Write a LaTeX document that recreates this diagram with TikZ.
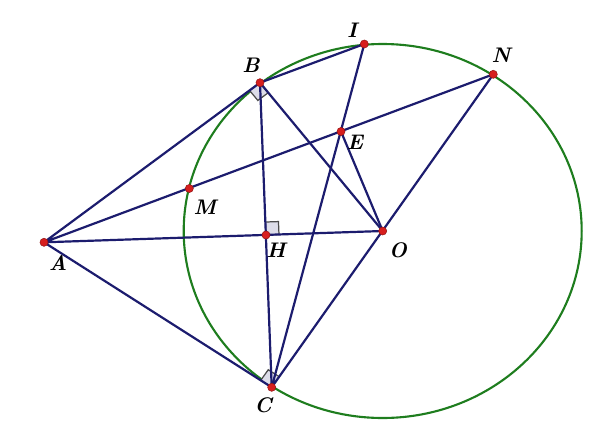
\documentclass[tikz,border=0pt]{standalone}
\usepackage{tikz}
\usetikzlibrary{calc}
\definecolor{navy}{RGB}{28,28,110}
\definecolor{circgreen}{RGB}{30,125,30}
\definecolor{ptred}{RGB}{215,30,30}
\tikzset{
	seg/.style={navy, line width=1.25pt},
	pt/.style={circle, fill=ptred, draw=ptred!70!black, line width=0.3pt, inner sep=0pt, minimum size=4.6pt},
	lbl/.style={font=\large\bfseries\itshape, inner sep=1pt},
	rmark/.style={fill=navy!15, draw=black!70, line width=0.7pt}
}
\newcommand{\rightangle}[3]{\filldraw[rmark](#1)--($(#1)!2.6mm!(#2)$)--($(#1)!2.6mm!(#2)+(#1)!2.6mm!(#3)-(#1)$)--($(#1)!2.6mm!(#3)$)--cycle;}
\begin{document}
\begin{tikzpicture}[x=0.02cm, y=-0.02cm]
\useasboundingbox (0,0) rectangle (600,430);
\coordinate (A) at (44,242.3);
\coordinate (B) at (260,82.7);
\coordinate (C) at (271.7,387.3);
\coordinate (H) at (266,235);
\coordinate (O) at (382.7,231);
\coordinate (I) at (364.3,44);
\coordinate (N) at (493.3,74.3);
\coordinate (E) at (341,131.5);
\coordinate (M) at (189.3,188.5);
% circle (O)
\draw[circgreen, line width=1.2pt] (O) ellipse [x radius=199, y radius=187];
% right angle marks
\rightangle{B}{A}{O}
\rightangle{C}{A}{O}
\rightangle{H}{B}{O}
% segments
\draw[seg] (A)--(B) (A)--(C) (A)--(O) (A)--(N);
\draw[seg] (B)--(C) (B)--(I) (B)--(O);
\draw[seg] (C)--(I) (C)--(N) (E)--(O);
% points and labels
\foreach \p in {A,B,C,H,O,I,N,E,M}
	\node[pt] (\p dot) at (\p) {};
\node[lbl] at (58,263) {A};
\node[lbl] at (251,65) {B};
\node[lbl] at (263,405) {C};
\node[lbl] at (276,250) {H};
\node[lbl] at (398,250) {O};
\node[lbl] at (352,30) {I};
\node[lbl] at (501,55) {N};
\node[lbl] at (355,142) {E};
\node[lbl] at (205,207) {M};
\end{tikzpicture}
\end{document}
